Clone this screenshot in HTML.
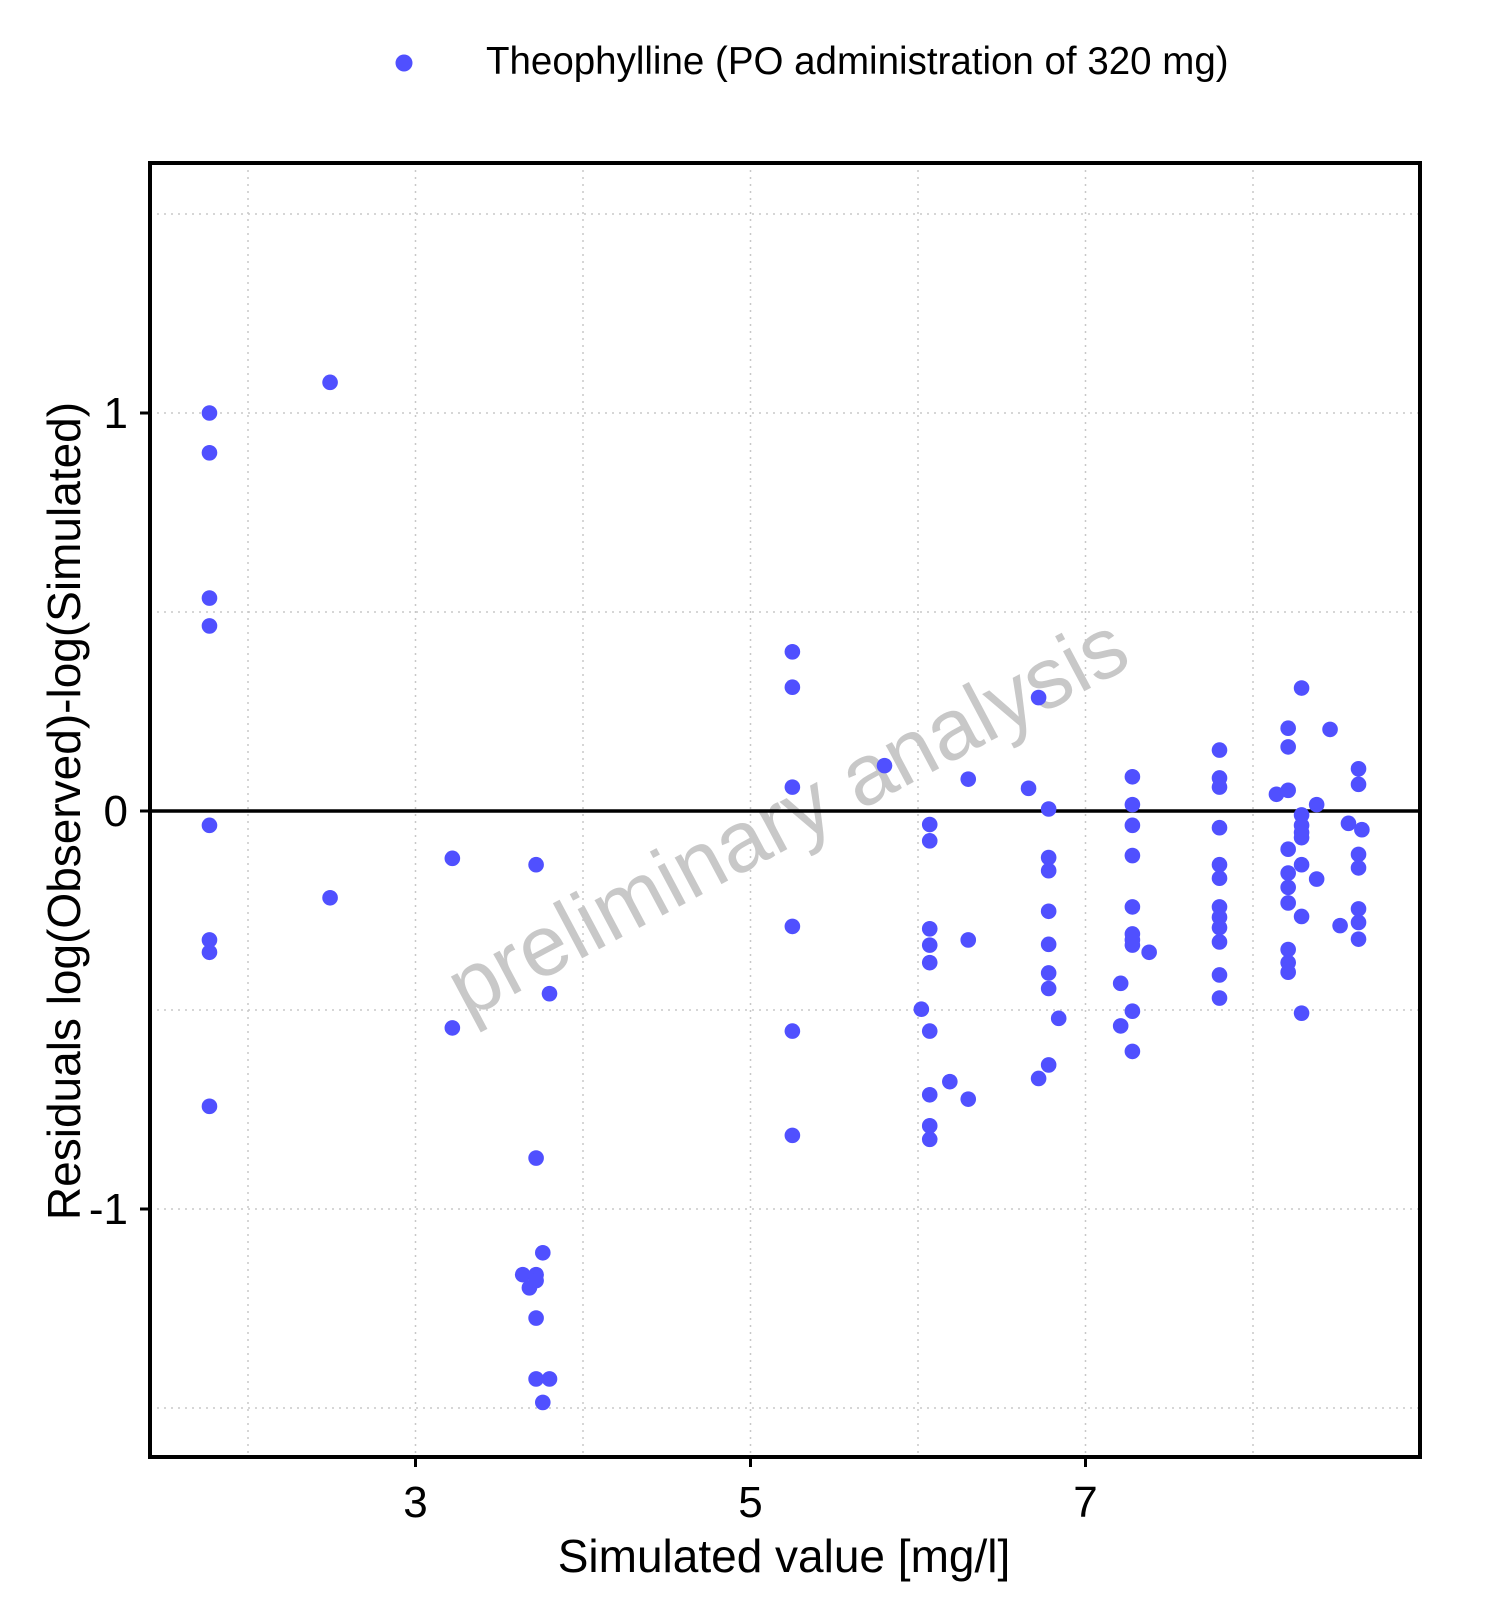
<!DOCTYPE html>
<html><head><meta charset="utf-8"><style>
body{margin:0;background:#fff}
text{font-family:"Liberation Sans",Arial,sans-serif}
</style></head><body>
<svg id="chart" width="1500" height="1617" viewBox="0 0 1500 1617" xmlns="http://www.w3.org/2000/svg">
<rect width="1500" height="1617" fill="#fff"/>
<g id="grid"></g>
<text x="790" y="822" font-size="86" fill="#c8c8c8" text-anchor="middle" dominant-baseline="middle" transform="rotate(-28 790 822)">preliminary analysis</text>
<line id="zl" stroke="#000" stroke-width="3.5"/>
<g id="pts"></g>
<rect x="150" y="163" width="1270" height="1294" fill="none" stroke="#000" stroke-width="4"/>
<g id="ticks"></g>
<circle cx="404" cy="63" r="8.5" fill="#5050ff"/>
<text x="486" y="74" font-size="38.5">Theophylline (PO administration of 320 mg)</text>
<text x="784" y="1572" font-size="46" text-anchor="middle">Simulated value [mg/l]</text>
<text x="0" y="0" font-size="46" text-anchor="middle" transform="translate(80 811) rotate(-90)">Residuals log(Observed)-log(Simulated)</text>
</svg>
<script>
const xTicks=[3,5,7];
const yTicks=[-1,0,1];
const xMinor=[2,4,6,8];
const yMinor=[-1.5,-0.5,0.5,1.5];
const xs=[1.77,1.77,1.77,1.77,1.77,1.77,1.77,1.77,2.49,2.49,3.22,3.22,3.72,3.72,3.72,3.72,3.72,3.76,3.76,3.80,3.80,3.64,3.68,3.72,
5.25,5.25,5.25,5.25,5.25,5.25,5.80,6.02,6.07,6.07,6.07,6.07,6.07,6.07,6.07,6.07,6.07,6.19,6.30,6.30,6.30,6.66,6.72,6.72,
6.78,6.78,6.78,6.78,6.78,6.78,6.78,6.78,6.84,7.21,7.21,7.28,7.28,7.28,7.28,7.28,7.28,7.28,7.28,7.28,7.28,7.38,
7.80,7.80,7.80,7.80,7.80,7.80,7.80,7.80,7.80,7.80,7.80,7.80,8.14,8.21,8.21,8.21,8.21,8.21,8.21,8.21,8.21,8.21,8.21,
8.29,8.29,8.29,8.29,8.29,8.29,8.29,8.29,8.38,8.38,8.46,8.52,8.57,8.63,8.63,8.63,8.63,8.63,8.63,8.63,8.65];
const ys=[1.0,0.90,0.535,0.465,-0.036,-0.324,-0.355,-0.742,1.077,-0.218,-0.119,-0.545,-0.135,-0.872,-1.165,-1.274,-1.427,-1.110,-1.486,-0.459,-1.427,-1.165,-1.198,-1.18,
0.40,0.311,0.06,-0.29,-0.553,-0.815,0.114,-0.498,-0.034,-0.075,-0.296,-0.337,-0.381,-0.553,-0.713,-0.791,-0.825,-0.680,0.08,-0.324,-0.724,0.057,0.285,-0.672,
0.005,-0.117,-0.150,-0.252,-0.335,-0.407,-0.446,-0.638,-0.521,-0.433,-0.540,0.086,0.016,-0.036,-0.112,-0.241,-0.309,-0.324,-0.337,-0.503,-0.604,-0.355,
0.153,0.083,0.06,-0.042,-0.135,-0.169,-0.241,-0.267,-0.293,-0.329,-0.412,-0.470,0.042,0.208,0.161,0.052,-0.096,-0.156,-0.192,-0.231,-0.348,-0.381,-0.405,
0.309,-0.01,-0.036,-0.054,-0.067,-0.135,-0.265,-0.508,0.016,-0.171,0.205,-0.288,-0.031,0.106,0.067,-0.109,-0.143,-0.246,-0.280,-0.322,-0.047];
const L=150,R=1420,T=163,B=1457;
const X=v=>415.5+(v-3)*167.5;
const Y=v=>811-v*398;
const NS="http://www.w3.org/2000/svg";
function mk(t,a,p){const e=document.createElementNS(NS,t);for(const k in a)e.setAttribute(k,a[k]);p.appendChild(e);return e;}
const g=document.getElementById('grid');
[...xTicks,...xMinor].forEach(v=>{const e=mk('line',{x1:X(v),x2:X(v),y1:T,y2:B,stroke:'#c8c8c8','stroke-width':1.5,'stroke-dasharray':'2 5'},g);

});
[...yTicks,...yMinor].forEach(v=>{const e=mk('line',{x1:L,x2:R,y1:Y(v),y2:Y(v),stroke:'#c8c8c8','stroke-width':1.5,'stroke-dasharray':'2 5'},g);

});
const zl=document.getElementById('zl');
zl.setAttribute('x1',L);zl.setAttribute('x2',R);zl.setAttribute('y1',Y(0));zl.setAttribute('y2',Y(0));
const p=document.getElementById('pts');
xs.forEach((v,i)=>{const c=mk('circle',{cx:X(v),cy:Y(ys[i]),r:7.8,fill:'#5050ff'},p);

});
const tk=document.getElementById('ticks');
xTicks.forEach(v=>{mk('line',{x1:X(v),x2:X(v),y1:B,y2:B+10,stroke:'#000','stroke-width':3},tk);
const t=mk('text',{x:X(v),y:B+60,'font-size':44,'text-anchor':'middle'},tk);t.textContent=v;

});
yTicks.forEach(v=>{mk('line',{x1:L-10,x2:L,y1:Y(v),y2:Y(v),stroke:'#000','stroke-width':3},tk);
const t=mk('text',{x:L-22,y:Y(v)+15,'font-size':44,'text-anchor':'end'},tk);t.textContent=v;

});
</script>
</body></html>
